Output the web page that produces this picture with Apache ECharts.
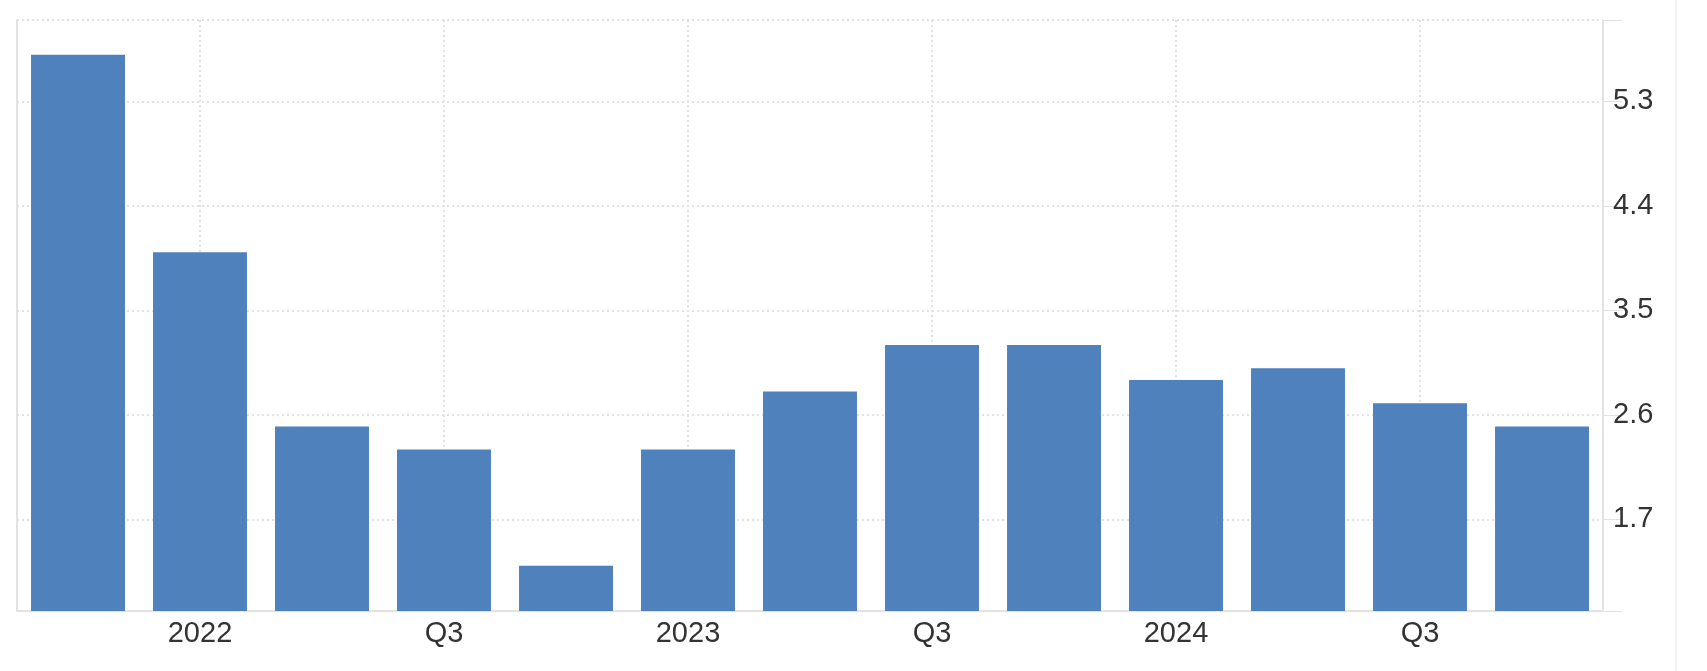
<!DOCTYPE html>
<html>
<head>
<meta charset="utf-8">
<script src="https://cdn.jsdelivr.net/npm/echarts@6/dist/echarts.min.js"></script>
<style>
  html, body { margin: 0; padding: 0; background: #ffffff; }
  #chart { width: 1707px; height: 671px; }
</style>
</head>
<body>
<div id="chart"></div>
<script>
// Quarterly categories (Q4 2021 .. Q4 2024)
const categories = ['2021 Q4', '2022 Q1', '2022 Q2', '2022 Q3', '2022 Q4',
                    '2023 Q1', '2023 Q2', '2023 Q3', '2023 Q4',
                    '2024 Q1', '2024 Q2', '2024 Q3', '2024 Q4'];
// Bar values
const values = [5.7, 4.0, 2.5, 2.3, 1.3, 2.3, 2.8, 3.2, 3.2, 2.9, 3.0, 2.7, 2.5];
// X tick labels shown under every other category
const xTickLabels = ['', '2022', '', 'Q3', '', '2023', '', 'Q3', '', '2024', '', 'Q3', ''];
// Y tick labels
const yTickValues = [1.7, 2.6, 3.5, 4.4, 5.3];
const yMin = 0.91;
const yMax = 6.0;

const chart = echarts.init(document.getElementById('chart'), null, { renderer: 'canvas' });
const font = '"Liberation Sans", Arial, Helvetica, sans-serif';
const gridColor = '#e2e2e2';

chart.setOption({
  animation: false,
  backgroundColor: '#ffffff',
  grid: { left: 17, right: 104, top: 20, bottom: 60, containLabel: false },
  xAxis: {
    type: 'category',
    data: categories,
    boundaryGap: true,
    axisLine: { show: true, lineStyle: { color: '#e2e2e2', width: 2 } },
    axisTick: { show: false, alignWithLabel: true },
    axisLabel: {
      interval: 0,
      margin: 8,
      fontFamily: font,
      fontSize: 29,
      color: '#333333',
      formatter: (v, i) => xTickLabels[i]
    },
    splitLine: {
      show: true,
      alignWithLabel: true,
      interval: (i) => xTickLabels[i] !== '',
      lineStyle: { color: gridColor, width: 2, type: [2, 3] }
    }
  },
  yAxis: [{
    type: 'value',
    position: 'right',
    min: yMin,
    max: yMax,
    axisLine: { show: true, lineStyle: { color: '#e2e2e2', width: 2 } },
    axisTick: {
      show: true,
      inside: false,
      length: 19,
      customValues: [yMin].concat(yTickValues, [yMax]),
      lineStyle: { color: '#e2e2e2', width: 1 }
    },
    axisLabel: {
      customValues: yTickValues,
      margin: 10,
      fontFamily: font,
      fontSize: 29,
      color: '#333333',
      padding: [0, 0, 9, 0],
      formatter: (v) => Number(v).toFixed(1)
    },
    splitLine: {
      show: true,
      lineStyle: { color: gridColor, width: 2, type: [2, 3] }
    }
  }, {
    type: 'value',
    position: 'left',
    min: yMin,
    max: yMax,
    axisLine: { show: true, lineStyle: { color: '#e2e2e2', width: 2 } },
    axisTick: { show: false },
    axisLabel: { show: false },
    splitLine: { show: false }
  }],
  graphic: [{
    type: 'line',
    shape: { x1: 1676, y1: 0, x2: 1676, y2: 671 },
    style: { stroke: '#f2f2f2', lineWidth: 2 },
    silent: true
  }],
  series: [{
    type: 'bar',
    data: values,
    yAxisIndex: 0,
    barWidth: '77%',
    itemStyle: { color: '#4f81bd' },
    z: 3
  }]
});
</script>
</body>
</html>
